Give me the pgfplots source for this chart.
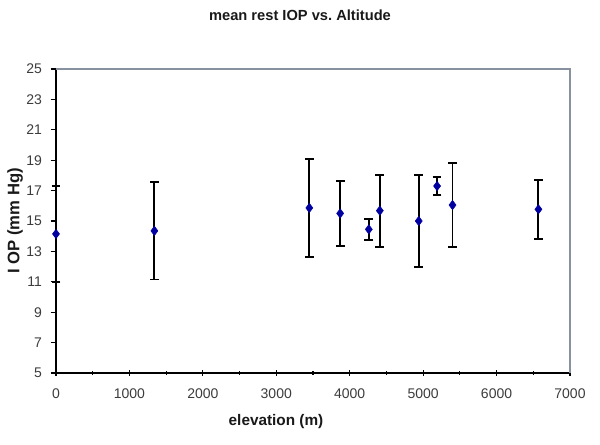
\documentclass[border=0pt]{standalone}
\usepackage{pgfplots}
\pgfplotsset{compat=1.18}
\usepackage{fontspec}
\setmainfont{Liberation Sans}

\definecolor{markblue}{RGB}{0,0,160}
\definecolor{framegray}{RGB}{135,145,160}
\definecolor{ticktext}{RGB}{60,60,60}

\pgfplotstableread{
x     y      err
0     14.15  3.15
1340  14.35  3.20
3450  15.86  3.20
3870  15.50  2.15
4260  14.45  0.70
4410  15.68  2.37
4940  15.00  3.00
5190  17.30  0.58
5400  16.05  2.77
6570  15.77  1.95
}\ioptable

\begin{document}
\begin{tikzpicture}[x=0.75pt,y=0.75pt]
\useasboundingbox (0,0) rectangle (600,444);
\begin{axis}[
  at={(42pt,53.25pt)}, anchor=south west,
  scale only axis, width=385.5pt, height=228pt,
  xmin=0, xmax=7000, ymin=5, ymax=25,
  xtick={0,1000,...,7000}, ytick={5,7,...,25},
  minor x tick num=1,
  axis lines=left, axis line style={-, black, line width=1pt},
  xtick align=center, ytick align=outside,
  major tick length=4pt, minor tick length=2.5pt,
  tick style={black, line width=0.8pt},
  ticklabel style={font=\fontsize{10.5}{12}\selectfont, text=ticktext},
  xticklabel style={yshift=-6pt},
  yticklabel style={xshift=-3pt},
  /pgf/number format/assume math mode=true,
  scaled x ticks=false,
  xticklabel style={/pgf/number format/1000 sep={}},
  clip=false,
]
\draw[framegray, line width=0.8pt] (rel axis cs:0,1) -- (rel axis cs:1,1) -- (rel axis cs:1,0);
\addplot[only marks, mark=diamond*, mark size=3.5pt, color=markblue,
  error bars/.cd, y dir=both, y explicit,
  error bar style={black, line width=1.4pt},
  error mark options={rotate=90, black, mark size=3.3pt, line width=1.4pt}]
  table[x=x, y=y, y error=err] {\ioptable};
\end{axis}
\node[font=\bfseries\fontsize{11}{13}\selectfont, text=black!90] at (300,429) {mean rest IOP vs.\ Altitude};
\node[font=\bfseries\fontsize{11.5}{14}\selectfont, text=black!90] at (276,22) {elevation (m)};
\node[font=\bfseries\fontsize{12.5}{14}\selectfont, text=black!90, rotate=90] at (15,223) {I OP (mm Hg)};
\end{tikzpicture}
\end{document}
